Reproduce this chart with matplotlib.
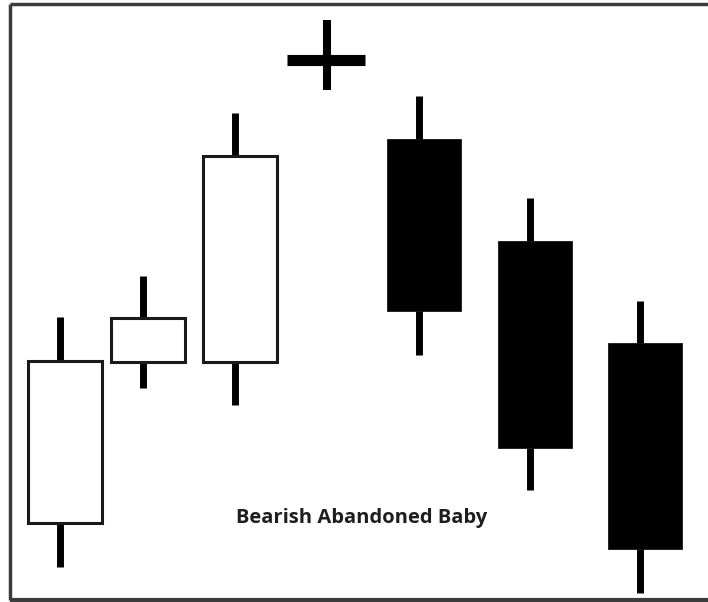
import matplotlib.pyplot as plt
from matplotlib.patches import Rectangle

# candle positions (x of wick) and prices
xpos = [60, 143, 235, 327, 419, 530, 640]
opens = [79, 240, 240, 542, 463, 361, 259]
closes = [241, 284, 446, 542, 291, 154, 53]
highs = [285, 326, 489, 582, 506, 404, 301]
lows = [35, 214, 197, 512, 247, 112, 9]
label = "Bearish Abandoned Baby"

body_w = 74
body_shift = 5  # bodies sit a little right of the wicks in the original

fig = plt.figure(figsize=(7.08, 6.02), dpi=100)
ax = fig.add_axes([0, 0, 1, 1])
ax.set_xlim(0, 708)
ax.set_ylim(0, 602)
ax.axis('off')

for x, o, c, h, l in zip(xpos, opens, closes, highs, lows):
    top = max(o, c)
    bot = min(o, c)
    if o == c:
        # doji: just a cross
        ax.plot([x, x], [l, h], color='black', lw=5.8, solid_capstyle='butt', zorder=2)
        ax.plot([x - body_w / 2 - 3, x + body_w / 2 + 1], [o, o], color='black', lw=8,
                solid_capstyle='butt', zorder=2)
        continue
    ax.plot([x, x], [top, h], color='black', lw=5, solid_capstyle='butt', zorder=1)
    ax.plot([x, x], [l, bot], color='black', lw=5, solid_capstyle='butt', zorder=1)
    bx = x + body_shift - body_w / 2
    if c > o:
        ax.add_patch(Rectangle((bx, bot), body_w, top - bot,
                               facecolor='white', edgecolor='#1a1a1a', lw=2.2, zorder=3))
    else:
        ax.add_patch(Rectangle((bx, bot), body_w, top - bot,
                               facecolor='black', edgecolor='black', lw=0.5, zorder=3))

ax.text(362, 84, label, ha='center', va='center', fontsize=14.5,
        fontweight='bold', family='Open Sans', color='#1e1e1e')

# frame (left, top, bottom; right edge is cut off)
frame_c = '#3c3c3c'
ax.plot([10, 10], [2, 598], color=frame_c, lw=2.5, solid_capstyle='butt')
ax.plot([10, 708], [598, 598], color=frame_c, lw=2.5, solid_capstyle='butt')
ax.plot([10, 708], [2.5, 2.5], color=frame_c, lw=3, solid_capstyle='butt')

fig.savefig('out.png', dpi=100)
